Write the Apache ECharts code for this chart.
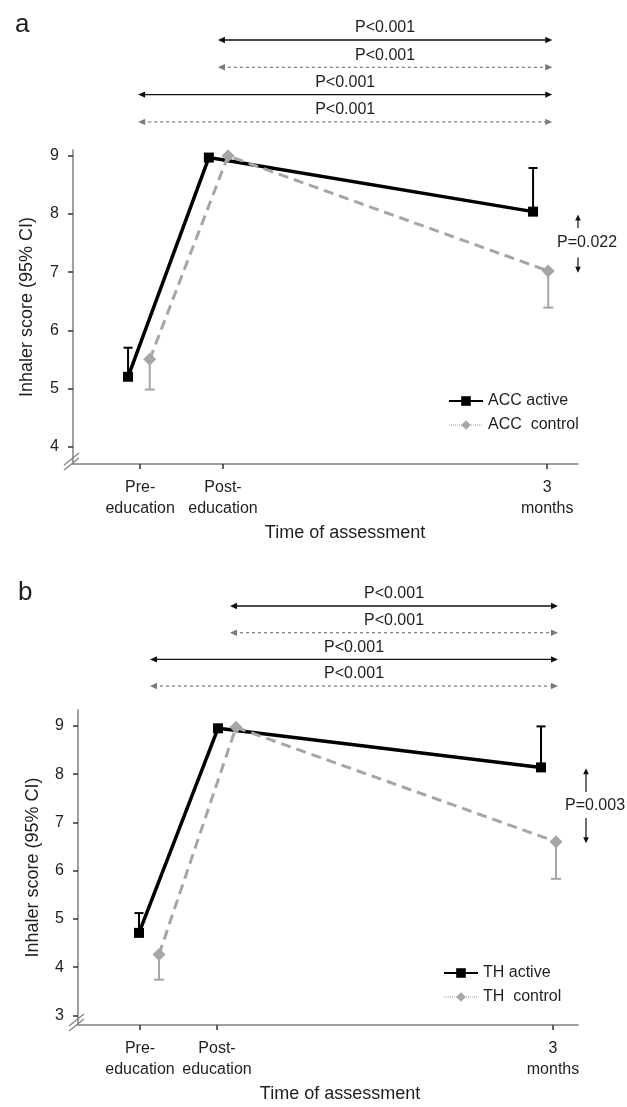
<!DOCTYPE html>
<html>
<head>
<meta charset="utf-8">
<script src="https://cdn.jsdelivr.net/npm/echarts@6/dist/echarts.min.js"></script>
<style>
  html, body { margin: 0; padding: 0; background: #fff; }
  #chart { width: 627px; height: 1107px; }
</style>
</head>
<body>
<div id="chart"></div>
<script>
// time points (x axis is a plain 0..100 position scale per panel)
const timeLabels = ['Pre-\neducation', 'Post-\neducation', '3\nmonths'];
const tickPosA = [13.3, 29.7, 93.9];
const tickPosB = [12.4, 27.8, 95];

// panel a: ACC
const accActiveX = [10.9, 26.9, 91.1];
const accActiveY = [5.2, 8.97, 8.04];
const accActiveHi = [5.7, null, 8.79];
const accControlX = [15.2, 30.7, 94.1];
const accControlY = [5.5, 9.0, 7.02];
const accControlLo = [4.98, null, 6.39];

// panel b: TH
const thActiveX = [12.2, 28, 92.6];
const thActiveY = [4.71, 8.95, 8.14];
const thActiveHi = [5.12, null, 8.99];
const thControlX = [16.2, 31.6, 95.6];
const thControlY = [4.26, 8.97, 6.6];
const thControlLo = [3.74, null, 5.83];

// comparison brackets above each panel: [start, end, row]
const spansA = [[28.7, 94.9, 0], [28.7, 94.9, 1], [12.9, 94.9, 2], [12.9, 94.9, 3]];
const spansB = [[30.4, 96, 0], [30.4, 96, 1], [14.4, 96, 2], [14.4, 96, 3]];
const spanLabels = ['P<0.001', 'P<0.001', 'P<0.001', 'P<0.001'];
const spanDashed = [false, true, false, true];

// between-group test at 3 months: [x, from, to]
const groupArrowsA = [[100, 7.76, 7.99], [100, 7.25, 6.99]];
const groupLabelA = [101.8, 7.5, 'P=0.022'];
const groupArrowsB = [[101.6, 7.63, 8.12], [101.6, 7.09, 6.57]];
const groupLabelB = [103.4, 7.34, 'P=0.003'];

const FONT = 'Liberation Sans, Arial, sans-serif';
const TXT = '#1e1e1e';
const AXIS = '#808080';
const GREY = '#a6a6a6';

const zip = (xs, ys) => xs.map((x, i) => [x, ys[i]]);
const bars = (xs, ys, ends) =>
  xs.map((x, i) => [x, ys[i], ends[i]]).filter((d) => d[2] != null);

function errorBarRender(color, capW) {
  return (params, api) => {
    const p0 = api.coord([api.value(0), api.value(1)]);
    const p1 = api.coord([api.value(0), api.value(2)]);
    return {
      type: 'group',
      children: [
        { type: 'line', shape: { x1: p0[0], y1: p0[1], x2: p1[0], y2: p1[1] }, style: { stroke: color, lineWidth: 2 } },
        { type: 'line', shape: { x1: p1[0] - capW / 2, y1: p1[1], x2: p1[0] + capW / 2, y2: p1[1] }, style: { stroke: color, lineWidth: 2 } },
      ],
    };
  };
}

function head(tip, dx, dy, len, half, color) {
  // triangle pointing along (dx,dy)
  const bx = tip[0] - dx * len, by = tip[1] - dy * len;
  return {
    type: 'polygon',
    shape: { points: [tip, [bx - dy * half, by + dx * half], [bx + dy * half, by - dx * half]] },
    style: { fill: color },
  };
}

function spanRender(params, api) {
  const i = params.dataIndex;
  const a = api.coord([api.value(0), api.value(2)]);
  const b = api.coord([api.value(1), api.value(2)]);
  const dashed = spanDashed[i];
  const color = dashed ? '#7a7a7a' : '#111';
  return {
    type: 'group',
    children: [
      { type: 'line', shape: { x1: a[0] + 4, y1: a[1], x2: b[0] - 4, y2: b[1] },
        style: { stroke: color, lineWidth: dashed ? 1.2 : 1.4, lineDash: dashed ? [3, 3] : null } },
      head(a, -1, 0, 7, 3.2, color),
      head(b, 1, 0, 7, 3.2, color),
      { type: 'text', style: { text: spanLabels[i], x: (a[0] + b[0]) / 2, y: a[1] - 12,
        textAlign: 'center', textVerticalAlign: 'middle', fill: TXT, fontSize: 16, fontFamily: FONT } },
    ],
  };
}

function groupRender(arrows, label) {
  return (params, api) => {
    const children = arrows.map((d) => {
      const p0 = api.coord([d[0], d[1]]);
      const p1 = api.coord([d[0], d[2]]);
      const dir = p1[1] < p0[1] ? -1 : 1;
      return { type: 'group', children: [
        { type: 'line', shape: { x1: p0[0], y1: p0[1], x2: p1[0], y2: p1[1] - dir * 4 }, style: { stroke: '#111', lineWidth: 1.2 } },
        head(p1, 0, dir, 6, 2.8, '#111'),
      ] };
    });
    const t = api.coord([label[0], label[1]]);
    children.push({ type: 'text', style: { text: label[2], x: t[0], y: t[1],
      textAlign: 'center', textVerticalAlign: 'middle', fill: TXT, fontSize: 16, fontFamily: FONT } });
    return { type: 'group', children };
  };
}

function xAxisFor(grid, ticks, padLeft) {
  return {
    type: 'value', gridIndex: grid, min: 0, max: 100,
    name: 'Time of assessment', nameLocation: 'middle', nameGap: 60,
    nameTextStyle: { color: TXT, fontSize: 18, fontFamily: FONT, padding: [0, 0, 0, padLeft] },
    axisLine: { lineStyle: { color: AXIS, width: 1.5 } },
    axisTick: { show: true, length: 5, lineStyle: { color: '#333', width: 1.5 }, customValues: ticks },
    axisLabel: {
      customValues: ticks, margin: 13, color: TXT, fontSize: 16, fontFamily: FONT, lineHeight: 21,
      formatter: (v) => timeLabels[ticks.indexOf(v)] || '',
    },
    splitLine: { show: false },
  };
}

function yAxisFor(grid, min, max, ticks, gap) {
  return {
    type: 'value', gridIndex: grid, min, max,
    name: 'Inhaler score (95% CI)', nameLocation: 'middle', nameGap: gap,
    nameTextStyle: { color: TXT, fontSize: 18, fontFamily: FONT },
    axisLine: { show: true, lineStyle: { color: AXIS, width: 1.5 } },
    axisTick: { show: true, length: 5, lineStyle: { color: '#333', width: 1.5 }, customValues: ticks },
    axisLabel: { customValues: ticks, margin: 14, color: TXT, fontSize: 16, fontFamily: FONT },
    splitLine: { show: false },
  };
}

const hiddenX = (grid) => ({ type: 'value', gridIndex: grid, min: 0, max: 100, show: false });
const hiddenY = (grid) => ({ type: 'value', gridIndex: grid, min: -0.5, max: 3.5, inverse: true, show: false });

function lineSeries(name, xi, yi, data, solid) {
  return {
    name, type: 'line', xAxisIndex: xi, yAxisIndex: yi, data, z: solid ? 4 : 5,
    symbol: solid ? 'rect' : 'diamond', symbolSize: solid ? 10 : 13,
    itemStyle: { color: solid ? '#000' : GREY },
    lineStyle: solid ? { color: '#000', width: 3.5 } : { color: GREY, width: 3, type: [10, 6] },
  };
}

function legendFor(left, top, names) {
  return {
    orient: 'vertical', left, top, itemWidth: 34, itemHeight: 12, itemGap: 8,
    textStyle: { color: TXT, fontSize: 16, fontFamily: FONT },
    data: [
      { name: names[0], lineStyle: { color: '#000', width: 2, type: 'solid' } },
      { name: names[1], lineStyle: { color: '#999', width: 1, type: 'dotted' } },
    ],
  };
}

const chart = echarts.init(document.getElementById('chart'), null, { renderer: 'canvas' });

chart.setOption({
  backgroundColor: '#fff',
  animation: false,
  title: [
    { text: 'a', left: 10, top: 7, textStyle: { fontSize: 26, fontWeight: 'normal', color: TXT, fontFamily: FONT } },
    { text: 'b', left: 13, top: 575, textStyle: { fontSize: 26, fontWeight: 'normal', color: TXT, fontFamily: FONT } },
  ],
  legend: [
    legendFor(443, 388, ['ACC active', 'ACC  control']),
    legendFor(438, 960, ['TH active', 'TH  control']),
  ],
  grid: [
    { left: 73, top: 150, width: 505, height: 314 },
    { left: 78, top: 710, width: 500, height: 315 },
    { left: 73, top: 26.35, width: 505, height: 109.2 },
    { left: 78, top: 592.7, width: 500, height: 106.7 },
  ],
  xAxis: [xAxisFor(0, tickPosA, 39), xAxisFor(1, tickPosB, 24), hiddenX(2), hiddenX(3)],
  yAxis: [
    yAxisFor(0, 3.7, 9.1, [4, 5, 6, 7, 8, 9], 37),
    yAxisFor(1, 2.8, 9.33, [3, 4, 5, 6, 7, 8, 9], 36),
    hiddenY(2), hiddenY(3),
  ],
  series: [
    { type: 'custom', xAxisIndex: 0, yAxisIndex: 0, z: 3, data: bars(accActiveX, accActiveY, accActiveHi), renderItem: errorBarRender('#000', 9) },
    { type: 'custom', xAxisIndex: 0, yAxisIndex: 0, z: 3, data: bars(accControlX, accControlY, accControlLo), renderItem: errorBarRender(GREY, 10) },
    lineSeries('ACC active', 0, 0, zip(accActiveX, accActiveY), true),
    lineSeries('ACC  control', 0, 0, zip(accControlX, accControlY), false),
    { type: 'custom', xAxisIndex: 0, yAxisIndex: 0, clip: false, data: [0], renderItem: groupRender(groupArrowsA, groupLabelA) },

    { type: 'custom', xAxisIndex: 1, yAxisIndex: 1, z: 3, data: bars(thActiveX, thActiveY, thActiveHi), renderItem: errorBarRender('#000', 9) },
    { type: 'custom', xAxisIndex: 1, yAxisIndex: 1, z: 3, data: bars(thControlX, thControlY, thControlLo), renderItem: errorBarRender(GREY, 10) },
    lineSeries('TH active', 1, 1, zip(thActiveX, thActiveY), true),
    lineSeries('TH  control', 1, 1, zip(thControlX, thControlY), false),
    { type: 'custom', xAxisIndex: 1, yAxisIndex: 1, clip: false, data: [0], renderItem: groupRender(groupArrowsB, groupLabelB) },

    { type: 'custom', xAxisIndex: 2, yAxisIndex: 2, clip: false, data: spansA, renderItem: spanRender },
    { type: 'custom', xAxisIndex: 3, yAxisIndex: 3, clip: false, data: spansB, renderItem: spanRender },
  ],
});

// axis break marks at each lower-left corner
const breaks = [[0, 3.7], [1, 2.8]].map(([g, ymin]) => {
  const c = chart.convertToPixel({ gridIndex: g }, [0, ymin]);
  return [0, 5].map((off) => ({
    type: 'line',
    shape: { x1: c[0] - 9, y1: c[1] + 6 - off, x2: c[0] + 6, y2: c[1] - 6 - off },
    style: { stroke: AXIS, lineWidth: 1.3 },
  }));
}).flat();
chart.setOption({ graphic: breaks });

window.addEventListener('resize', () => chart.resize());
</script>
</body>
</html>
